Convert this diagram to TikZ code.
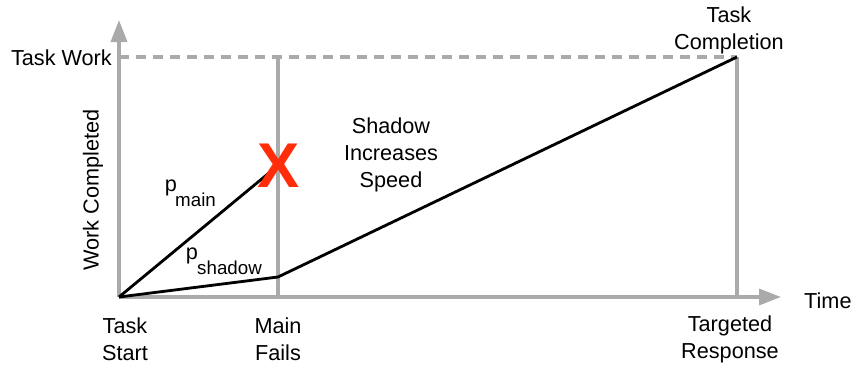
\documentclass[tikz,border=0pt]{standalone}
\usepackage{fontspec}
\setmainfont{Liberation Sans}
\usetikzlibrary{arrows.meta,positioning}
\definecolor{axisgray}{RGB}{170, 170, 170}
\definecolor{failred}{RGB}{255, 45, 10}

\begin{document}
\begin{tikzpicture}[
    x=0.03cm, y=-0.03cm,
    every node/.style={align=center, inner sep=0pt},
    label/.style={font=\fontsize{18.5}{23}\selectfont},
    sublabel/.style={font=\fontsize{16}{16}\selectfont},
    axis/.style={axisgray, line width=3pt, -{Triangle[length=0.66cm, width=0.48cm]}},
    guide/.style={axisgray, line width=2.6pt},
    limit/.style={axisgray, line width=2.6pt, dash pattern=on 0.3cm off 0.21cm},
    work/.style={black, line width=2.4pt, line join=round}
]
\useasboundingbox (0,0) rectangle (857,366);

% Key points
\coordinate (origin) at (119,297);
\coordinate (y_tip) at (119,20);
\coordinate (x_tip) at (781,297);
\coordinate (work_level) at (119,57);
\coordinate (fail_top) at (278,57);
\coordinate (fail_bottom) at (278,297);
\coordinate (resp_bottom) at (737,297);
\coordinate (completion) at (737,57);
\coordinate (main_end) at (275,168);
\coordinate (knee) at (278,277);

% Guides
\draw[limit] (work_level) -- (completion);
\draw[guide] (fail_top) -- (fail_bottom);
\draw[guide] (completion) -- (resp_bottom);

% Axes
\draw[axis] (origin) -- (y_tip);
\draw[axis] (origin) -- (x_tip);

% Progress lines
\draw[work] (origin) -- (main_end);
\draw[work] (origin) -- (knee) -- (completion);

% Failure mark
\node[failred, font=\fontsize{54}{54}\selectfont\bfseries] (fail_mark) at (279,166) {X};

% Axis labels
\node[label, anchor=east] (task_work) at (112,58) {Task Work};
\node[label, rotate=90] (work_completed) at (93,190) {Work Completed};
\node[label, anchor=west] (time) at (804,301) {Time};
\node[label] (task_completion) at (729,30) {Task\\Completion};

% Time points
\node[label] (task_start) at (125,339) {Task\\Start};
\node[label] (main_fails) at (278,339) {Main\\Fails};
\node[label] (targeted_response) at (730,339) {Targeted\\Response};

% Line labels
\node[label] (p_main) at (171,188) {p};
\node[sublabel, anchor=west] (p_main_sub) at (175,200) {main};
\node[label] (p_shadow) at (192,256) {p};
\node[sublabel, anchor=west] (p_shadow_sub) at (197,268) {shadow};
\node[label] (shadow_note) at (391,155) {Shadow\\Increases\\Speed};

\end{tikzpicture}
\end{document}
